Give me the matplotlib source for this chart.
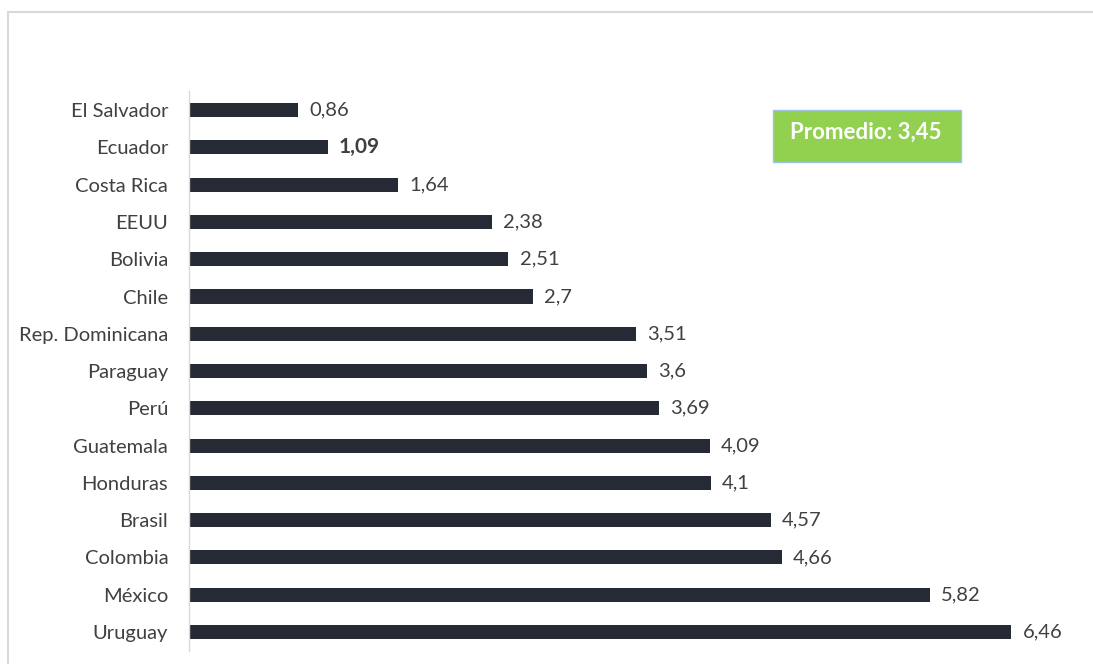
import matplotlib
matplotlib.use("Agg")
import matplotlib.pyplot as plt
from matplotlib.lines import Line2D
from matplotlib.patches import Rectangle

countries = ["El Salvador", "Ecuador", "Costa Rica", "EEUU", "Bolivia", "Chile",
             "Rep. Dominicana", "Paraguay", "Perú", "Guatemala", "Honduras",
             "Brasil", "Colombia", "México", "Uruguay"]
values = [0.86, 1.09, 1.64, 2.38, 2.51, 2.7, 3.51, 3.6, 3.69, 4.09, 4.1,
          4.57, 4.66, 5.82, 6.46]
labels = ["0,86", "1,09", "1,64", "2,38", "2,51", "2,7", "3,51", "3,6", "3,69",
          "4,09", "4,1", "4,57", "4,66", "5,82", "6,46"]
promedio_text = "Promedio: 3,45"

plt.rcParams['font.family'] = ['Lato', 'DejaVu Sans']

fig = plt.figure(figsize=(10.93, 6.64), dpi=100)
ax = fig.add_axes([189/1093, 1-650.6/664, (1080-189)/1093, (650.6-91.5)/664])

ypos = list(range(len(countries)))
ax.barh(ypos, values, height=0.38, color="#252A35")
ax.set_ylim(len(countries)-0.5, -0.5)
ax.set_xlim(0, 7)
ax.set_yticks(ypos)
ax.set_yticklabels(countries, fontsize=14.5, color="#404040")
ax.tick_params(axis='y', length=0, pad=15)
ax.set_xticks([])
for s in ["top", "right", "bottom"]:
    ax.spines[s].set_visible(False)
ax.spines["left"].set_color("#D9D9D9")
ax.spines["left"].set_linewidth(1)

for y, v, lab in zip(ypos, values, labels):
    bold = lab == "1,09"
    ax.annotate(lab, (v, y), xytext=(8, 0), textcoords="offset points",
                va="center", ha="left", fontsize=15 if bold else 14.5,
                fontweight="bold" if bold else "normal", color="#404040")

# promedio box
fig.patches.append(Rectangle((773/1093, 1-162/664), (961-773)/1093, (162-110)/664,
                             transform=fig.transFigure, facecolor="#92D050",
                             edgecolor="#9DC3E6", linewidth=1))
fig.text(866/1093, 1-132/664, promedio_text, ha="center", va="center",
         fontsize=16, fontweight="bold", color="white")

# border lines
fig.add_artist(Line2D([8/1093, 8/1093], [0, 1-12/664], transform=fig.transFigure,
                      color="#D9D9D9", linewidth=1.5))
fig.add_artist(Line2D([8/1093, 1], [1-12/664, 1-12/664], transform=fig.transFigure,
                      color="#D9D9D9", linewidth=1.5))

fig.savefig("out.png", dpi=100)
